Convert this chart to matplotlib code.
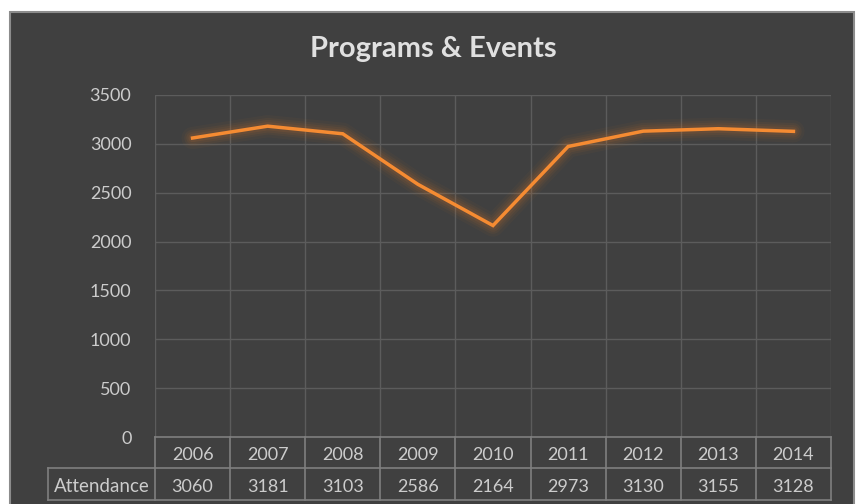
import matplotlib.pyplot as plt
import matplotlib.transforms as mtransforms
from matplotlib.patches import Rectangle
import numpy as np

years = ['2006', '2007', '2008', '2009', '2010', '2011', '2012', '2013', '2014']
attendance = [3060, 3181, 3103, 2586, 2164, 2973, 3130, 3155, 3128]
row_label = 'Attendance'
y_ticks = [0, 500, 1000, 1500, 2000, 2500, 3000, 3500]

bg = '#404040'
grid_c = '#5c5c5c'
table_c = '#7f7f7f'
text_c = '#cccccc'
line_c = '#F58B32'

plt.rcParams['font.family'] = ['Lato', 'DejaVu Sans']

W, H = 859, 504
fig = plt.figure(figsize=(W / 100, H / 100), dpi=100, facecolor='white')
fig.patches.append(Rectangle((10 / W, -0.02), (854 - 10) / W, (504 - 12) / H + 0.02,
                             transform=fig.transFigure, facecolor=bg,
                             edgecolor='#8c8c8c', lw=1.5, zorder=-10))

ax = fig.add_axes([155 / W, 67 / H, 676 / W, 342 / H])
ax.set_facecolor('none')
for s in ax.spines.values():
    s.set_visible(False)

n = len(years)
x = np.arange(n)
ax.set_xlim(-0.5, n - 0.5)
ax.set_ylim(0, 3500)
ax.set_yticks(y_ticks)
ax.set_xticks([])
ax.tick_params(axis='y', length=0, pad=17, labelcolor=text_c, labelsize=13)
for t in y_ticks[1:]:
    ax.axhline(t, color=grid_c, lw=1, zorder=1)
for b in np.arange(n + 1) - 0.5:
    ax.axvline(b, color=grid_c, lw=1, zorder=1)

# soft glow behind the line
for lw, a in [(16, 0.05), (12, 0.07), (9, 0.09), (6, 0.12)]:
    ax.plot(x, attendance, color='#c8702a', lw=lw, alpha=a, solid_capstyle='round',
            solid_joinstyle='round', zorder=2)
ax.plot(x, attendance, color=line_c, lw=2.5, solid_joinstyle='miter', zorder=3)

# data table under the plot
tr = mtransforms.blended_transform_factory(ax.transData, ax.transAxes)
r1 = -31 / 342
r2 = -63 / 342
off = -2.5 / 342
left = -0.5 - 107 / (676 / n)
kw = dict(color=table_c, lw=1.2, transform=tr, clip_on=False)
ax.plot([-0.5, n - 0.5], [0, 0], **kw)
ax.plot([left, n - 0.5], [r1, r1], **kw)
ax.plot([left, n - 0.5], [r2, r2], **kw)
ax.plot([left, left], [r1, r2], **kw)
for b in np.arange(n + 1) - 0.5:
    ax.plot([b, b], [0, r2], **kw)
for i in range(n):
    ax.text(i, r1 / 2 + off, years[i], transform=tr, ha='center', va='center',
            color=text_c, fontsize=13)
    ax.text(i, (r1 + r2) / 2 + off, str(attendance[i]), transform=tr, ha='center',
            va='center', color=text_c, fontsize=13)
ax.text((left - 0.5) / 2, (r1 + r2) / 2 + off, row_label, transform=tr, ha='center',
        va='center', color=text_c, fontsize=13.5)

fig.text(433 / W, 1 - 49 / H, 'Programs & Events', ha='center', va='center',
         color='#e0e0e0', fontsize=21, fontweight='bold')

fig.savefig('out.png', dpi=100, facecolor='white')
